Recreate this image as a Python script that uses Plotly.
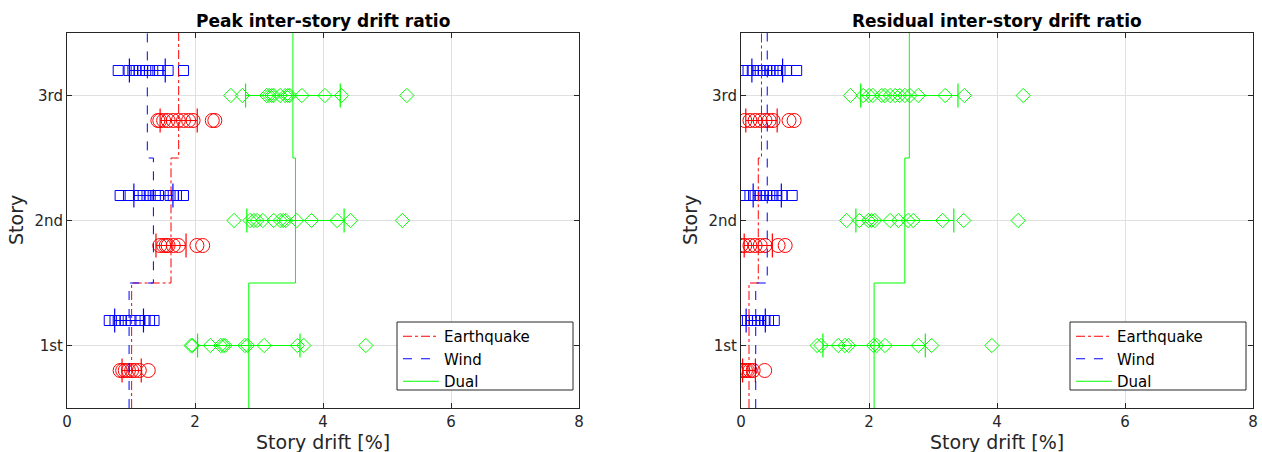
import plotly.graph_objects as go
import numpy as np

stories = [1, 2, 3]
story_labels = ["1st", "2nd", "3rd"]
x_ticks = [0, 2, 4, 6, 8]

# ---- Peak inter-story drift ratio [%] ----
peak_eq = {
    1: [0.83, 0.87, 0.91, 0.96, 1.01, 1.06, 1.13, 1.27],
    2: [1.45, 1.51, 1.55, 1.58, 1.66, 1.74, 2.03, 2.12],
    3: [1.42, 1.45, 1.51, 1.58, 1.66, 1.74, 1.82, 1.90, 1.97, 2.27, 2.31],
}
peak_wind = {
    1: [0.66, 0.75, 0.80, 0.85, 0.91, 1.00, 1.14, 1.22, 1.29, 1.36],
    2: [0.83, 0.96, 1.13, 1.19, 1.25, 1.30, 1.38, 1.43, 1.61, 1.66, 1.71, 1.82],
    3: [0.80, 0.97, 1.03, 1.08, 1.13, 1.18, 1.23, 1.29, 1.34, 1.42, 1.58, 1.82],
}
peak_dual = {
    1: [1.94, 1.96, 2.24, 2.40, 2.44, 2.47, 2.78, 2.82, 3.08, 3.60, 3.70, 4.67],
    2: [2.61, 2.86, 2.92, 2.97, 3.06, 3.23, 3.33, 3.38, 3.42, 3.59, 3.82, 4.22, 4.43, 5.24],
    3: [2.56, 2.74, 3.12, 3.16, 3.20, 3.23, 3.33, 3.41, 3.45, 3.48, 3.67, 4.03, 4.29, 5.31],
}
peak_eq_mean = [1.01, 1.625, 1.745]
peak_eq_std = [0.15, 0.235, 0.29]
peak_wind_mean = [0.97, 1.35, 1.255]
peak_wind_std = [0.225, 0.305, 0.28]
peak_dual_mean = [2.84, 3.57, 3.53]
peak_dual_std = [0.80, 0.76, 0.74]

# ---- Residual inter-story drift ratio [%] ----
res_eq = {
    1: [0.0, 0.03, 0.07, 0.10, 0.14, 0.19, 0.37],
    2: [0.0, 0.06, 0.14, 0.22, 0.30, 0.375, 0.58, 0.69],
    3: [0.06, 0.14, 0.22, 0.30, 0.375, 0.44, 0.50, 0.75, 0.83],
}
res_wind = {
    1: [0.0, 0.05, 0.10, 0.16, 0.21, 0.26, 0.31, 0.375, 0.43, 0.52],
    2: [0.04, 0.14, 0.22, 0.30, 0.35, 0.40, 0.45, 0.50, 0.56, 0.64, 0.80],
    3: [0.02, 0.11, 0.19, 0.25, 0.30, 0.35, 0.40, 0.45, 0.50, 0.56, 0.61, 0.71, 0.87],
}
res_dual = {
    1: [1.19, 1.25, 1.52, 1.625, 1.68, 2.07, 2.12, 2.25, 2.77, 2.98, 3.92],
    2: [1.65, 1.85, 1.99, 2.04, 2.09, 2.33, 2.46, 2.61, 2.69, 3.15, 3.48, 4.33],
    3: [1.71, 1.91, 2.00, 2.06, 2.20, 2.25, 2.33, 2.41, 2.48, 2.56, 2.64, 2.77, 3.19, 3.49, 4.41],
}
res_eq_mean = [0.125, 0.27, 0.32]
res_eq_std = [0.10, 0.22, 0.245]
res_wind_mean = [0.23, 0.41, 0.41]
res_wind_std = [0.15, 0.22, 0.24]
res_dual_mean = [2.08, 2.56, 2.63]
res_dual_std = [0.80, 0.765, 0.76]

RED, BLUE, GREEN = "#ff0000", "#0000ff", "#00ff00"
FONT = "DejaVu Sans"

fig = go.Figure()

def add_panel(col, eq, wind, dual, means, stds):
    xa = "x" if col == 1 else "x2"
    ya = "y" if col == 1 else "y2"
    groups = [
        (eq, -0.2, "circle-open", 14, RED, "Earthquake", "dashdot"),
        (wind, 0.2, "square-open", 10, BLUE, "Wind", "dash"),
        (dual, 0.0, "diamond-open", 11, GREEN, "Dual", "solid"),
    ]
    for gi, (data, off, sym, sz, color, name, dash) in enumerate(groups):
        xs, ys = [], []
        for s in stories:
            xs += data[s]
            ys += [s + off] * len(data[s])
        fig.add_trace(go.Scatter(
            x=xs, y=ys, mode="markers", xaxis=xa, yaxis=ya, showlegend=False,
            marker=dict(symbol=sym, size=sz, color=color, line=dict(width=1, color=color)),
            hoverinfo="skip"))
        m, sd = means[gi], stds[gi]
        fig.add_trace(go.Scatter(
            x=m, y=[s + off for s in stories], mode="markers", xaxis=xa, yaxis=ya,
            showlegend=False, marker=dict(size=1, color="rgba(0,0,0,0)"),
            error_x=dict(type="data", array=sd, symmetric=True, color=color,
                         thickness=1.2, width=12),
            hoverinfo="skip"))
    for gi, (data, off, sym, sz, color, name, dash) in enumerate(groups):
        m = means[gi]
        sx, sy = [], []
        for i, s in enumerate(stories):
            sx += [m[i], m[i]]
            sy += [s - 0.5, s + 0.5]
        fig.add_trace(go.Scatter(
            x=sx, y=sy, mode="lines", xaxis=xa, yaxis=ya, name=name,
            line=dict(color=color, width=1, dash=dash),
            legend="legend" if col == 1 else "legend2", showlegend=True))

add_panel(1, peak_eq, peak_wind, peak_dual,
          [peak_eq_mean, peak_wind_mean, peak_dual_mean],
          [peak_eq_std, peak_wind_std, peak_dual_std])
add_panel(2, res_eq, res_wind, res_dual,
          [res_eq_mean, res_wind_mean, res_dual_mean],
          [res_eq_std, res_wind_std, res_dual_std])

W, H = 1262, 452
def px_x(p): return p / W
def px_y(p): return 1 - p / H

axis_common = dict(
    showline=True, linecolor="#262626", linewidth=1, mirror="ticks",
    ticks="inside", ticklen=5, tickcolor="#262626", automargin=False,
    showgrid=True, gridcolor="#e0e0e0", gridwidth=1, zeroline=False,
    tickfont=dict(family=FONT, size=15, color="#262626"),
)
legend_common = dict(
    xanchor="left", yanchor="top",
    borderwidth=0, bgcolor="rgba(0,0,0,0)",
    font=dict(family=FONT, size=15, color="#000000"),
    tracegroupgap=0, itemwidth=36,
)
fig.update_layout(
    width=W, height=H,
    margin=dict(l=0, r=0, t=0, b=0),
    paper_bgcolor="white", plot_bgcolor="white",
    font=dict(family=FONT, color="#262626"),
    xaxis=dict(domain=[px_x(67), px_x(579)], range=[0, 8], tickvals=x_ticks,
               anchor="y", **axis_common),
    yaxis=dict(domain=[px_y(408), px_y(33)], range=[0.5, 3.5], tickvals=stories,
               ticktext=story_labels, anchor="x", **axis_common),
    xaxis2=dict(domain=[px_x(741), px_x(1253)], range=[0, 8], tickvals=x_ticks,
                anchor="y2", **axis_common),
    yaxis2=dict(domain=[px_y(408), px_y(33)], range=[0.5, 3.5], tickvals=stories,
                ticktext=story_labels, anchor="x2", **axis_common),
    legend=dict(x=px_x(398), y=px_y(320), **legend_common),
    legend2=dict(x=px_x(1071), y=px_y(320), **legend_common),
    showlegend=True,
)

# legend frames
shapes = []
for x0 in [397, 1070]:
    shapes.append(dict(type="rect", xref="paper", yref="paper",
                       x0=px_x(x0), x1=px_x(x0 + 176), y0=px_y(390), y1=px_y(322),
                       line=dict(color="#262626", width=1), fillcolor="white",
                       layer="above"))
fig.update_layout(shapes=shapes)

ann = []
for cx, title in [((67 + 579) / 2, "Peak inter-story drift ratio"),
                  ((741 + 1253) / 2, "Residual inter-story drift ratio")]:
    ann.append(dict(x=px_x(cx), y=px_y(21), xref="paper", yref="paper",
                    text="<b>" + title + "</b>", showarrow=False,
                    font=dict(family=FONT, size=17, color="#000000"),
                    xanchor="center", yanchor="middle"))
    ann.append(dict(x=px_x(cx), y=px_y(442), xref="paper", yref="paper",
                    text="Story drift [%]", showarrow=False,
                    font=dict(family=FONT, size=19, color="#262626"),
                    xanchor="center", yanchor="middle"))
for lx in [16, 690]:
    ann.append(dict(x=px_x(lx), y=px_y(220), xref="paper", yref="paper",
                    text="Story", showarrow=False, textangle=-90,
                    font=dict(family=FONT, size=19, color="#262626"),
                    xanchor="center", yanchor="middle"))
fig.update_layout(annotations=ann)

fig.write_html("out.html")
